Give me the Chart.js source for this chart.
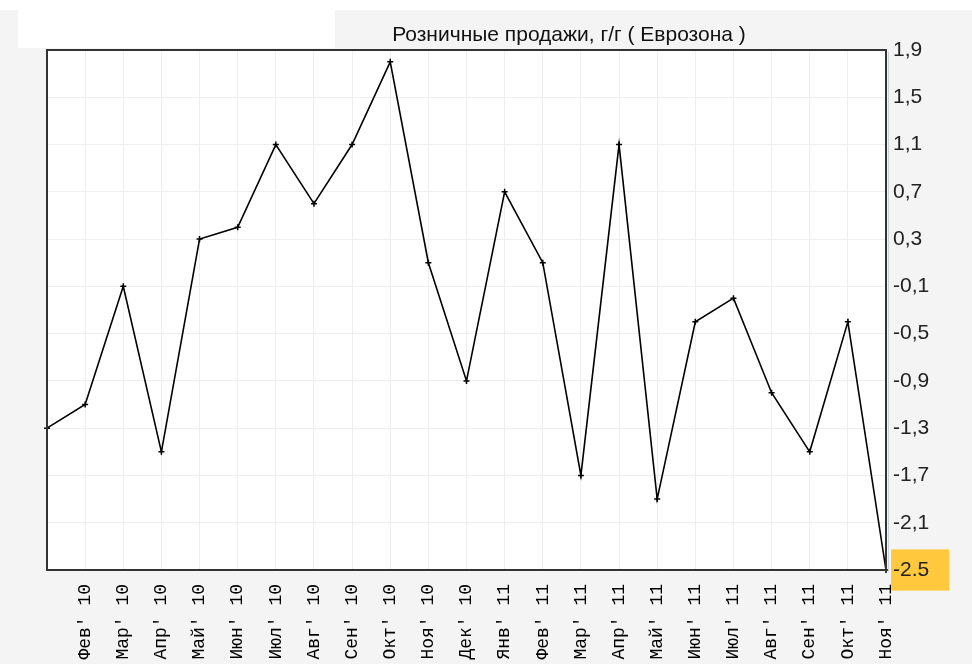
<!DOCTYPE html>
<html>
<head>
    <title>Розничные продажи</title>
    <script src="https://cdn.jsdelivr.net/npm/chart.js"></script>
    <style>
        body { margin: 0; background: #f4f4f4; }
        #wrap { position: relative; width: 972px; height: 664px; overflow: hidden; }
        #topband { position: absolute; left: 0; top: 0; width: 972px; height: 10px; background: #fff; }
        #whitebox { position: absolute; left: 18px; top: 10px; width: 317px; height: 38px; background: #fff; }
        #title { position: absolute; left: 369px; top: 22px; width: 400px; text-align: center; white-space: nowrap;
                 font: 21px "Liberation Sans", Arial, sans-serif; color: #111; }
        canvas { position: absolute; left: 0; top: 0; }
    </style>
</head>
<body>
<div id="wrap">
    <div id="topband"></div>
    <div id="whitebox"></div>
    <canvas id="retail" width="972" height="664"></canvas>
    <div id="title">Розничные продажи, г/г ( Еврозона )</div>
</div>

<script>
// months Jan 2010 .. Nov 2011
const months = ["Янв' 10", "Фев' 10", "Мар' 10", "Апр' 10", "Май' 10", "Июн' 10", "Июл' 10", "Авг' 10",
    "Сен' 10", "Окт' 10", "Ноя' 10", "Дек' 10", "Янв' 11", "Фев' 11", "Мар' 11", "Апр' 11",
    "Май' 11", "Июн' 11", "Июл' 11", "Авг' 11", "Сен' 11", "Окт' 11", "Ноя' 11"];
const retailYoY = [-1.3, -1.1, -0.1, -1.5, 0.3, 0.4, 1.1, 0.6, 1.1, 1.8, 0.1, -0.9,
    0.7, 0.1, -1.7, 1.1, -1.9, -0.4, -0.2, -1.0, -1.5, -0.4, -2.5];
const yTicks = [-2.5, -2.1, -1.7, -1.3, -0.9, -0.5, -0.1, 0.3, 0.7, 1.1, 1.5, 1.9];
const lastValue = retailYoY[retailYoY.length - 1];

// white plot background + dark frame round the plot
const frame = {
    id: 'frame',
    beforeDraw(chart) {
        const a = chart.chartArea, ctx = chart.ctx;
        ctx.save();
        ctx.fillStyle = '#ffffff';
        ctx.fillRect(a.left, a.top, a.right - a.left, a.bottom - a.top);
        ctx.restore();
    },
    afterDatasetsDraw(chart) {
        const a = chart.chartArea, ctx = chart.ctx;
        ctx.save();
        ctx.strokeStyle = '#c8d0da';
        ctx.lineWidth = 1;
        ctx.beginPath();
        ctx.moveTo(a.right + 2.5, a.top + 2);
        ctx.lineTo(a.right + 2.5, a.bottom + 2);
        ctx.stroke();
        ctx.strokeStyle = '#333333';
        ctx.lineWidth = 2;
        ctx.strokeRect(a.left, a.top, a.right - a.left, a.bottom - a.top);
        ctx.restore();
    }
};

new Chart(document.getElementById('retail').getContext('2d'), {
    type: 'line',
    data: {
        labels: months,
        datasets: [{
            data: retailYoY,
            borderColor: '#000',
            borderWidth: 1.6,
            pointStyle: 'cross',
            pointRadius: 3,
            pointBorderColor: '#000',
            pointBorderWidth: 1.5,
            fill: false,
            tension: 0,
            clip: false
        }]
    },
    options: {
        responsive: false,
        animation: false,
        layout: { padding: { left: 47, top: 50 } },
        plugins: { legend: { display: false }, tooltip: { enabled: false } },
        scales: {
            x: {
                offset: false,
                border: { display: false },
                grid: { color: '#eeeeee', drawTicks: false },
                ticks: {
                    autoSkip: false,
                    maxRotation: 90,
                    minRotation: 90,
                    padding: 14,
                    color: '#000',
                    font: { family: '"Liberation Mono", "DejaVu Sans Mono", monospace', size: 18 },
                    callback: (v, i) => i === 0 ? '' : months[i]
                },
                afterFit: s => { s.height = 94; }
            },
            y: {
                position: 'right',
                min: yTicks[0],
                max: yTicks[yTicks.length - 1],
                border: { display: false },
                grid: { color: '#eeeeee', drawTicks: false },
                afterBuildTicks: s => { s.ticks = yTicks.map(v => ({ value: v })); },
                ticks: {
                    padding: 7,
                    color: '#222',
                    font: { family: '"Liberation Sans", Arial, sans-serif', size: 21 },
                    showLabelBackdrop: c => c.tick.value === lastValue,
                    backdropColor: '#ffc83d',
                    backdropPadding: { top: 8, bottom: 8, left: 2, right: 20 },
                    callback: v => v === lastValue ? String(v) : v.toFixed(1).replace('.', ',')
                },
                afterFit: s => { s.width = 86; }
            }
        }
    },
    plugins: [frame]
});
</script>
</body>
</html>
